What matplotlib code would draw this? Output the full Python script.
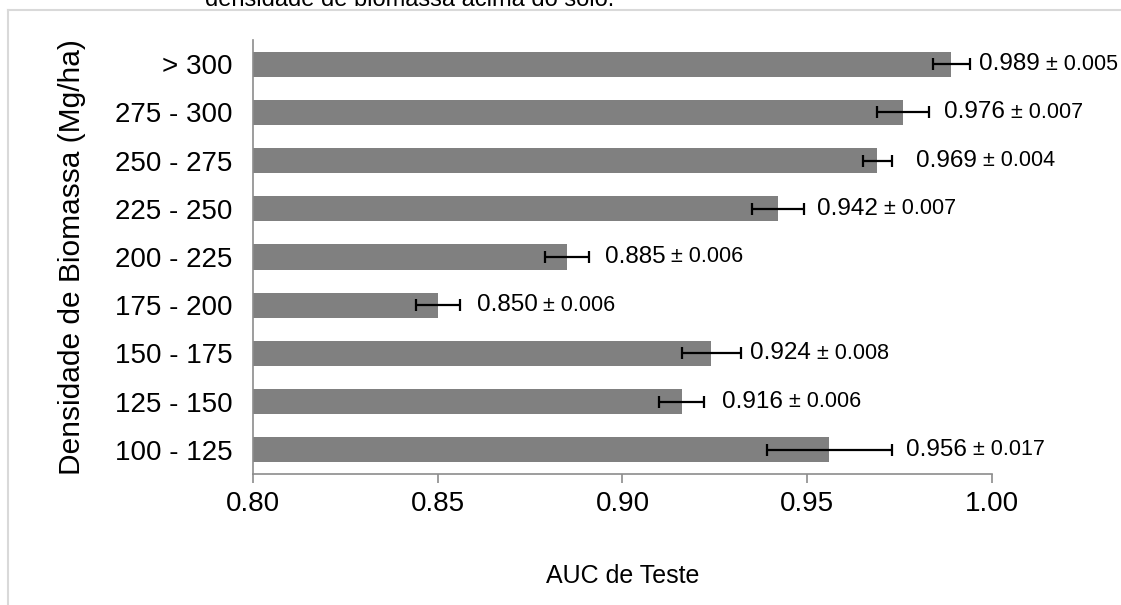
import matplotlib
matplotlib.use("Agg")
import matplotlib.pyplot as plt
from matplotlib.lines import Line2D

plt.rcParams['font.family'] = ['Liberation Sans', 'DejaVu Sans']

categories = ["100 - 125", "125 - 150", "150 - 175", "175 - 200", "200 - 225",
              "225 - 250", "250 - 275", "275 - 300", "> 300"]
auc_mean = [0.956, 0.916, 0.924, 0.850, 0.885, 0.942, 0.969, 0.976, 0.989]
auc_sd = [0.017, 0.006, 0.008, 0.006, 0.006, 0.007, 0.004, 0.007, 0.005]
x_ticks = [0.80, 0.85, 0.90, 0.95, 1.00]

# hand-placed gap (points) between each error bar and its value label
label_gap = [10, 13, 7, 12, 11, 9.5, 17, 11, 6.5]

fig = plt.figure(figsize=(11.21, 6.05), dpi=100)
ax = fig.add_axes([0.2257, 0.2165, 0.6592, 0.7175])

ypos = list(range(len(categories)))
ax.barh(ypos, [m - 0.80 for m in auc_mean], left=0.80, height=0.52,
        color="#808080", zorder=2)
ax.errorbar(auc_mean, ypos, xerr=auc_sd, fmt="none", ecolor="black",
            elinewidth=1.6, capsize=4.5, capthick=1.6, zorder=3)

for y, m, s, g in zip(ypos, auc_mean, auc_sd, label_gap):
    t = ax.annotate(f"{m:.3f}", xy=(m + s, y), xytext=(g, 0),
                    textcoords="offset points", va="center", ha="left",
                    fontsize=17.5, annotation_clip=False)
    ax.annotate(f" ± {s:.3f}", xy=(1, 0.5), xycoords=t, va="center", ha="left",
                fontsize=15.5, annotation_clip=False)

ax.set_xlim(0.80, 1.00)
ax.set_ylim(-0.5, len(categories) - 0.5)
ax.set_xticks(x_ticks)
ax.set_xticklabels([f"{v:.2f}" for v in x_ticks])
ax.set_yticks(ypos)
ax.set_yticklabels(categories)

for side in ("top", "right"):
    ax.spines[side].set_visible(False)
for side in ("left", "bottom"):
    ax.spines[side].set_color("#8c8c8c")
    ax.spines[side].set_linewidth(1.2)

ax.tick_params(axis="x", direction="out", length=6.5, width=1.2, color="#8c8c8c",
               labelsize=20, pad=6)
ax.tick_params(axis="y", length=0, labelsize=20, pad=15)

ax.set_xlabel("AUC de Teste", fontsize=18, va="center")
ax.xaxis.set_label_coords(0.5, -0.235)
ax.set_ylabel("Densidade de Biomassa (Mg/ha)", fontsize=21.5, va="center")
ax.yaxis.set_label_coords(-0.245, 0.5)

# page frame and caption line above the chart
fig.add_artist(Line2D([8 / 1121, 8 / 1121], [0, 1 - 10 / 605],
                      transform=fig.transFigure, color="#d9d9d9", lw=1.5))
fig.add_artist(Line2D([8 / 1121, 1], [1 - 10 / 605, 1 - 10 / 605],
                      transform=fig.transFigure, color="#d9d9d9", lw=1.5))
fig.text(205 / 1121, 1 - 6 / 605, "densidade de biomassa acima do solo.",
         fontsize=17, va="baseline", ha="left")

fig.savefig("out.png", dpi=100)
